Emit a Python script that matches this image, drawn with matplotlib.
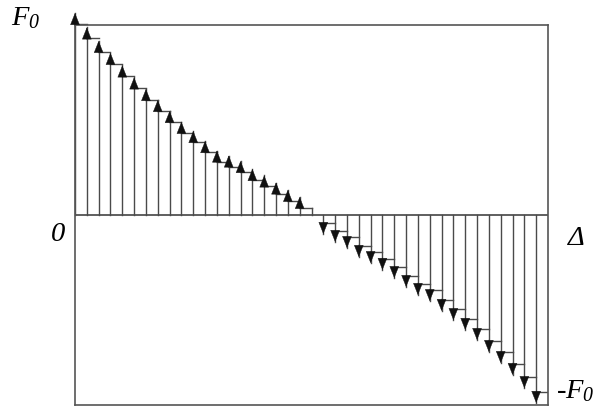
import numpy as np
import matplotlib
matplotlib.use("Agg")
import matplotlib.pyplot as plt

plt.rcParams['mathtext.fontset'] = 'custom'
plt.rcParams['mathtext.it'] = 'Liberation Serif:italic'
plt.rcParams['mathtext.rm'] = 'Liberation Serif:italic'
plt.rcParams['mathtext.default'] = 'it'

# force values (units of F0), one arrow per slot
left_vals = [1.063, 0.987, 0.916, 0.853, 0.787, 0.724, 0.663, 0.605, 0.547, 0.49,
             0.442, 0.389, 0.339, 0.313, 0.284, 0.242, 0.208, 0.171, 0.132, 0.095]
right_vals = [-0.100, -0.142, -0.174, -0.221, -0.253, -0.289, -0.332, -0.379, -0.421, -0.453,
              -0.505, -0.553, -0.605, -0.658, -0.721, -0.779, -0.842, -0.911, -0.989]
n_slots = 40

left_x = np.arange(len(left_vals))
right_x = np.arange(len(right_vals)) + len(left_vals) + 1

head = 11 / 190  # arrow head length in F0 units
shaft = '#4a4a4a'

fig = plt.figure(figsize=(6.16, 4.16), dpi=100)
ax = fig.add_axes([75 / 616, 11 / 416, 473 / 616, 380 / 416])
ax.set_xlim(0, n_slots)
ax.set_ylim(-1, 1)
ax.set_xticks([])
ax.set_yticks([])
for s in ax.spines.values():
    s.set_color('#555555')
    s.set_linewidth(1.2)

ax.axhline(0, color='#444444', lw=1.2)

arrow = dict(arrowstyle='-|>,head_length=0.8,head_width=0.32', color='#111111', lw=0.3,
             shrinkA=0, shrinkB=0, mutation_scale=10)

def draw_arrow(x, v):
    ax.plot([x, x], [0, v], color=shaft, lw=1.0, clip_on=False)
    # only the head: start the annotate just behind the tip
    ax.annotate('', xy=(x, v), xytext=(x, v - np.sign(v) * head * 1.1),
                arrowprops=arrow, annotation_clip=False)

for x, v in zip(left_x, left_vals):
    draw_arrow(x, v)
    ax.plot([x, x + 1], [v - head, v - head], color=shaft, lw=1.0, clip_on=False)
# last small step, too short for a head
last = left_vals[-1] - head
ax.plot([left_x[-1] + 1] * 2, [0, last], color=shaft, lw=1.0)

for x, v in zip(right_x, right_vals):
    draw_arrow(x, v)
    ax.plot([x, x + 1], [v + head, v + head], color=shaft, lw=1.0)

serif = dict(fontfamily='Liberation Serif', style='italic', fontsize=20.5, va='baseline')
fig.text(11 / 616, 1 - 25 / 416, r'$F_{0}$', **serif)
fig.text(51 / 616, 1 - 241 / 416, '0', **serif)
fig.text(568 / 616, 1 - 245 / 416, 'Δ', **serif)
fig.text(556 / 616, 1 - 398 / 416, r'-$F_{0}$', **serif)

fig.savefig('out.png', dpi=100)
